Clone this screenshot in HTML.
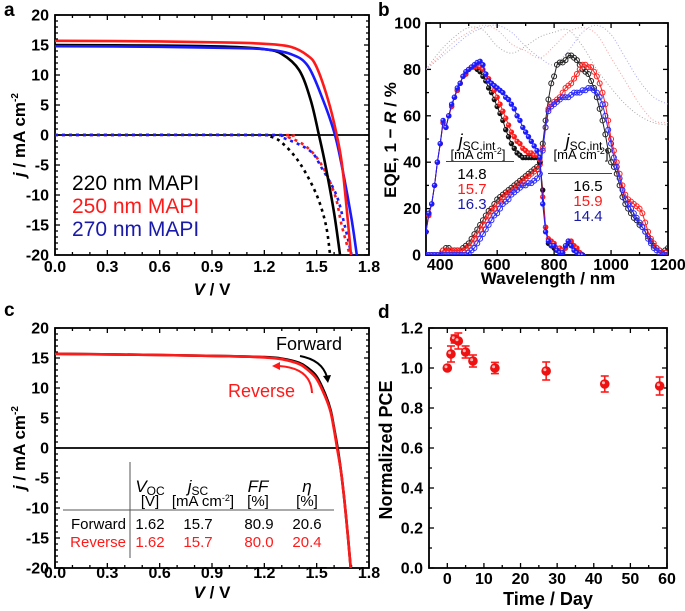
<!DOCTYPE html>
<html><head><meta charset="utf-8"><style>
html,body{margin:0;padding:0;background:#fff}
svg{display:block;font-family:"Liberation Sans",sans-serif}
</style></head><body>
<svg id="chart" width="685" height="611" viewBox="0 0 685 611" xmlns="http://www.w3.org/2000/svg"></svg>
<script>
// ---------- Panel a data (V in volts, j in mA cm^-2) ----------
const aBlackV = [0, 0.6, 1.0, 1.2, 1.3, 1.4, 1.466, 1.513, 1.55, 1.6, 1.634];
const aBlackJ = [15.0, 14.9, 14.7, 14.3, 13.5, 10.8, 5.8, 0, -5, -13, -20];
const aRedV = [0, 0.6, 1.0, 1.2, 1.35, 1.45, 1.5, 1.566, 1.615, 1.65, 1.697];
const aRedJ = [15.7, 15.6, 15.4, 15.2, 14.7, 13.2, 11.3, 5.8, 0, -6, -20];
const aBlueV = [0, 0.6, 1.0, 1.2, 1.35, 1.45, 1.537, 1.605, 1.65, 1.7, 1.73];
const aBlueJ = [14.8, 14.7, 14.5, 14.3, 13.5, 11.5, 5.8, 0, -6, -14, -20];
const aBlackDV = [0, 1.1, 1.24, 1.32, 1.41, 1.5, 1.553, 1.577];
const aBlackDJ = [0, 0, -0.3, -1.8, -5, -10, -15, -20];
const aRedDV = [0, 1.25, 1.34, 1.443, 1.529, 1.605, 1.643, 1.69];
const aRedDJ = [0, 0, -0.4, -2, -5, -10, -15, -20];
const aBlueDV = [0, 1.2, 1.3, 1.46, 1.529, 1.613, 1.66, 1.7];
const aBlueDJ = [0, 0, -0.4, -2.6, -5.5, -10, -15, -20];

// ---------- Panel b data (wavelength nm, %) ----------
const topWl = [350,360,370,380,390,400,410,420,430,440,450,460,470,480,490,500,510,520,530,540,550,560,570,580,590,600,610,620,630,640,650,660,670,680,690,700,710,720,730,740,750,760,770,780,790,800,810,820,830,840,850,860,870,880,890,900];
const topBlack = [10,18,22,30,40,48,57,55,60,64,68,71,74,77,78,80,81,81,80,79,77,75,72,70,67,64,61,58,54,51,48,46,44,43,42,42,42,42,42,42,40,28,12,5,4,3,2,2,1,3,5,5,3,2,1,0];
const topRed = [10,17,22,30,40,48,57,55,60,64,68,71,74,77,78,80,81,81,82,81,80,78,76,74,71,68,65,62,59,56,53,51,49,48,46,45,44,44,43,43,41,25,12,7,6,5,3,3,2,3,6,6,4,3,1,0];
const topBlue = [10,18,22,30,40,48,58,55,60,65,68,72,74,77,79,80,81,82,83,83.5,82,78,75,74,73,72,71,70,68,67,65,63,60,58,55,53,51,49,47,45,42,22,10,6,4,4,2,1,1,4,6,4,2,1,0,0];
const botWl = [350,360,370,380,390,400,410,420,430,440,450,460,470,480,490,500,510,520,530,540,550,560,570,580,590,600,610,620,630,640,650,660,670,680,690,700,710,720,730,740,750,760,770,780,790,800,810,820,830,840,850,860,870,880,890,900,910,920,930,940,950,960,970,980,990,1000,1010,1020,1030,1040,1050,1060,1070,1080,1090,1100,1110,1120,1130,1140,1150,1160,1170,1180,1190,1200];
const botBlack = [0,0,0,0,0,0,2,3,3,2,2,2,2,3,4,5,7,9,11,13,15,17,19,20,22,24,25,26,27,28,29,30,31,32,33,34,35,36,37,38,40,48,58,67,74,77,82,83,83,84,86,86,85,84,82,80,79,78,75,72,68,63,58,52,45,40,38,35,30,25,22,20,18,16,15,13,12,10,8,6,4,3,2,1,2,3];
const botRed = [0,0,0,0,0,0,2,2,2,2,2,2,2,2,3,4,5,7,9,11,13,15,17,19,20,22,23,25,26,27,28,29,30,31,32,33,34,35,36,37,39,46,55,63,65,66,67,68,70,72,73,74,76,78,80,82,82,81,81,79,77,74,70,65,58,50,45,40,35,30,26,24,23,22,21,20,18,14,10,7,5,3,2,1,1,0];
const botBlue = [0,0,0,0,0,0,0,0,0,0,0,0,0,0,0,1,2,3,5,7,9,11,13,15,17,18,20,22,23,24,26,27,28,29,30,30,31,31,32,33,35,45,55,62,64,65,66,67,68,68,68,69,70,70,70,71,71,72,72,71,70,68,65,60,54,48,42,38,33,28,24,22,20,18,16,14,12,10,7,5,3,2,1,0,0,0];
const rWl = [350,400,450,500,550,600,650,700,750,800,850,900,950,1000,1050,1100,1150,1200];
const rBlack = [80,88,94,98,97,90,87,90,94,96,97,90,80,72,65,60,57,56];
const rRed = [80,86,92,96,99,97,91,88,85,90,96,98,95,85,75,65,58,57];
const rBlue = [80,85,90,95,98,99,96,90,85,82,88,96,99,95,85,75,68,65];

// ---------- Panel c data ----------
const cRevV = [0, 0.6, 1.0, 1.2, 1.3, 1.4, 1.45, 1.5, 1.55, 1.58, 1.6, 1.617, 1.64, 1.66, 1.68, 1.695];
const cRevJ = [15.7, 15.5, 15.3, 15.1, 14.8, 14.0, 13.0, 11.5, 8.5, 6, 3, 0, -4, -9, -15, -20];
const cFwdV = [0, 0.6, 1.0, 1.2, 1.3, 1.4, 1.45, 1.5, 1.55, 1.58, 1.6, 1.62, 1.64, 1.66, 1.68, 1.695];
const cFwdJ = [15.7, 15.5, 15.3, 15.15, 14.9, 14.2, 13.3, 11.9, 8.9, 6.3, 3.3, 0, -4, -9, -15, -20];

// ---------- Panel d data ----------
const dDays = [0, 1, 2, 3, 5, 7, 13, 27, 43, 58];
const dPce = [1.0, 1.07, 1.145, 1.135, 1.08, 1.035, 1.0, 0.985, 0.92, 0.91];
const dErr = [0.005, 0.04, 0.02, 0.04, 0.03, 0.03, 0.028, 0.045, 0.04, 0.045];

const NS = "http://www.w3.org/2000/svg";
const svg = document.getElementById('chart');
function mk(tag, parent, a) {
  const e = document.createElementNS(NS, tag);
  for (const k in a) e.setAttribute(k, a[k]);
  parent.appendChild(e);
  return e;
}
function scale(d0, d1, p0, p1) { return v => p0 + (v - d0) * (p1 - p0) / (d1 - d0); }
function smoothPath(pts) {
  let d = `M${pts[0][0].toFixed(2)},${pts[0][1].toFixed(2)}`;
  for (let i = 0; i < pts.length - 1; i++) {
    const p0 = pts[i - 1] || pts[i], p1 = pts[i], p2 = pts[i + 1], p3 = pts[i + 2] || p2;
    const c1 = [p1[0] + (p2[0] - p0[0]) / 6, p1[1] + (p2[1] - p0[1]) / 6];
    const c2 = [p2[0] - (p3[0] - p1[0]) / 6, p2[1] - (p3[1] - p1[1]) / 6];
    d += ` C${c1[0].toFixed(2)},${c1[1].toFixed(2)} ${c2[0].toFixed(2)},${c2[1].toFixed(2)} ${p2[0].toFixed(2)},${p2[1].toFixed(2)}`;
  }
  return d;
}
let clipN = 0;
function axes(o) {
  const g = mk('g', svg, {});
  
  
  const sx = scale(o.xmin, o.xmax, o.px0, o.px1);
  const sy = scale(o.ymin, o.ymax, o.py0, o.py1);
  const ax = mk('g', g, {stroke: '#000', 'stroke-width': 1.3});
  
  
  const eps = 1e-6;
  for (let v = Math.ceil(o.xmin / o.xMinor - eps) * o.xMinor; v <= o.xmax + eps; v += o.xMinor) {
    const maj = Math.abs(v / o.xMajor - Math.round(v / o.xMajor)) < 1e-4;
    const L = maj ? 5 : 3, x = sx(v);
    mk('line', ax, {x1: x, x2: x, y1: o.py0, y2: o.py0 - L});
    mk('line', ax, {x1: x, x2: x, y1: o.py1, y2: o.py1 + L});
    if (maj) {
      const t = mk('text', g, {x: x, y: o.xLabY, 'text-anchor': 'middle', 'font-size': 16, 'font-weight': 'bold', fill: '#000'});
      
      
      t.textContent = o.xfmt(v);
    }
  }
  for (let v = Math.ceil(o.ymin / o.yMinor - eps) * o.yMinor; v <= o.ymax + eps; v += o.yMinor) {
    const maj = Math.abs(v / o.yMajor - Math.round(v / o.yMajor)) < 1e-4;
    const L = maj ? 5 : 3, y = sy(v);
    mk('line', ax, {x1: o.px0, x2: o.px0 + L, y1: y, y2: y});
    mk('line', ax, {x1: o.px1, x2: o.px1 - L, y1: y, y2: y});
    if (maj) {
      const t = mk('text', g, {x: o.yLabX, y: y + 5.5, 'text-anchor': 'end', 'font-size': 16, 'font-weight': 'bold', fill: '#000'});
      
      
      t.textContent = o.yfmt(Math.abs(v) < eps ? 0 : v);
    }
  }
  const fr = mk('rect', g, {x: o.px0, y: o.py1, width: o.px1 - o.px0, height: o.py0 - o.py1, fill: 'none', stroke: '#000', 'stroke-width': 1.8});
  
  
  const id = 'clip' + (clipN++);
  const cp = mk('clipPath', svg, {id: id});
  mk('rect', cp, {x: o.px0, y: o.py1, width: o.px1 - o.px0, height: o.py0 - o.py1});
  const plot = mk('g', g, {'clip-path': `url(#${id})`});
  
  
  return {sx, sy, g, plot};
}
function label(parent, x, y, html, attrs, name) {
  const t = mk('text', parent, Object.assign({x: x, y: y, fill: '#000'}, attrs));
  
  
  t.innerHTML = html;
  return t;
}
function curve(A, parent, xs, ys, color, dash, name, w) {
  const pts = xs.map((v, i) => [A.sx(v), A.sy(ys[i])]);
  const p = mk('path', parent, {d: smoothPath(pts), fill: 'none', stroke: color, 'stroke-width': w || 2.6, 'stroke-dasharray': dash || 'none'});
  
  
  return p;
}

// ================= Panel a =================
const A = axes({name: 'panel-a', px0: 55, px1: 369, py0: 255, py1: 15, xmin: 0, xmax: 1.8, ymin: -20, ymax: 20,
  xMajor: 0.3, xMinor: 0.1, yMajor: 5, yMinor: 1, xLabY: 272, yLabX: 49, xfmt: v => v.toFixed(1), yfmt: v => String(Math.round(v))});
mk('line', A.plot, {x1: 55, x2: 369, y1: A.sy(0), y2: A.sy(0), stroke: '#000', 'stroke-width': 1.8});
curve(A, A.plot, aBlackDV, aBlackDJ, '#000', '3 4', 'series-220nm-dark');
curve(A, A.plot, aRedDV, aRedDJ, '#ff1a1a', '3 4', 'series-250nm-dark');
curve(A, A.plot, aBlueDV, aBlueDJ, '#1a1aff', '3 4', 'series-270nm-dark');
curve(A, A.plot, aBlackV, aBlackJ, '#000', null, 'series-220nm-light');
curve(A, A.plot, aBlueV, aBlueJ, '#1a1aff', null, 'series-270nm-light');
curve(A, A.plot, aRedV, aRedJ, '#ff1a1a', null, 'series-250nm-light');
label(A.g, 72, 190, '220 nm MAPI', {'font-size': 21}, 'legend-entry-220nm');
label(A.g, 72, 213, '250 nm MAPI', {'font-size': 21, fill: '#ff1a1a'}, 'legend-entry-250nm');
label(A.g, 72, 236, '270 nm MAPI', {'font-size': 21, fill: '#1a1aaa'}, 'legend-entry-270nm');
label(A.g, 212, 295, '<tspan font-style="italic">V</tspan> / V', {'font-size': 17, 'font-weight': 'bold', 'text-anchor': 'middle'}, 'x-axis-title');
label(A.g, 0, 0, '<tspan font-style="italic">j</tspan> / mA cm<tspan dy="-7" font-size="10">-2</tspan>', {'font-size': 17, 'font-weight': 'bold', 'text-anchor': 'middle', transform: 'translate(25,135) rotate(-90)'}, 'y-axis-title');
label(svg, 4, 16, 'a', {'font-size': 19, 'font-weight': 'bold'}, 'panel-label-a');

// ================= Panel b =================
const B = axes({name: 'panel-b', px0: 426, px1: 668, py0: 255, py1: 23, xmin: 350, xmax: 1200, ymin: 0, ymax: 100,
  xMajor: 200, xMinor: 100, yMajor: 20, yMinor: 10, xLabY: 270, yLabX: 421, xfmt: v => String(v), yfmt: v => String(Math.round(v))});
curve(B, B.plot, rWl, rBlack, '#aaa', '1 2', 'series-1-minus-R-220nm', 1);
curve(B, B.plot, rWl, rRed, '#f5a0a0', '1 2', 'series-1-minus-R-250nm', 1);
curve(B, B.plot, rWl, rBlue, '#a8a8f5', '1 2', 'series-1-minus-R-270nm', 1);
function markers(Ax, parent, xs, ys, color, filled, name) {
  const g = mk('g', parent, {});
  
  
  const pts = xs.map((v, i) => [Ax.sx(v), Ax.sy(ys[i])]);
  mk('polyline', g, {points: pts.map(p => p.join(',')).join(' '), fill: 'none', stroke: color, 'stroke-width': 1});
  pts.forEach(p => {
    if (filled) {
      mk('circle', g, {cx: p[0], cy: p[1], r: 2.7, fill: color});
      mk('circle', g, {cx: p[0] - 0.8, cy: p[1] - 0.8, r: 0.9, fill: '#fff', opacity: 0.6});
    } else {
      mk('circle', g, {cx: p[0], cy: p[1], r: 2.5, fill: 'none', stroke: color, 'stroke-width': 1});
    }
  });
}
markers(B, B.plot, botWl, botBlack, '#222', false, 'series-bottom-cell-eqe-220nm');
markers(B, B.plot, botWl, botRed, '#ff2020', false, 'series-bottom-cell-eqe-250nm');
markers(B, B.plot, botWl, botBlue, '#2a2aff', false, 'series-bottom-cell-eqe-270nm');
markers(B, B.plot, topWl, topBlack, '#111', true, 'series-top-cell-eqe-220nm');
markers(B, B.plot, topWl, topRed, '#ff1a1a', true, 'series-top-cell-eqe-250nm');
markers(B, B.plot, topWl, topBlue, '#1a1aff', true, 'series-top-cell-eqe-270nm');
label(B.g, 477, 147, '<tspan font-style="italic" font-size="18">j</tspan><tspan font-size="12" dy="3">SC,int</tspan>', {'font-size': 14, 'text-anchor': 'middle'}, 'jsc-int-header-top');
label(B.g, 478, 159, '[mA cm<tspan dy="-5" font-size="9">-2</tspan><tspan dy="5">]</tspan>', {'font-size': 13, 'text-anchor': 'middle'}, 'jsc-int-unit-top');
mk('line', B.g, {x1: 446, x2: 514, y1: 161.5, y2: 161.5, stroke: '#444', 'stroke-width': 1});
label(B.g, 472, 179, '14.8', {'font-size': 15, 'text-anchor': 'middle'}, 'jsc-top-220nm');
label(B.g, 472, 194, '15.7', {'font-size': 15, 'text-anchor': 'middle', fill: '#ff1a1a'}, 'jsc-top-250nm');
label(B.g, 472, 209, '16.3', {'font-size': 15, 'text-anchor': 'middle', fill: '#1a1aaa'}, 'jsc-top-270nm');
label(B.g, 584, 147, '<tspan font-style="italic" font-size="18">j</tspan><tspan font-size="12" dy="3">SC,int</tspan>', {'font-size': 14, 'text-anchor': 'middle'}, 'jsc-int-header-bottom');
label(B.g, 581, 159, '[mA cm<tspan dy="-5" font-size="9">-2</tspan><tspan dy="5">]</tspan>', {'font-size': 13, 'text-anchor': 'middle'}, 'jsc-int-unit-bottom');
mk('line', B.g, {x1: 548, x2: 612, y1: 173.5, y2: 173.5, stroke: '#444', 'stroke-width': 1});
label(B.g, 588, 191, '16.5', {'font-size': 15, 'text-anchor': 'middle'}, 'jsc-bottom-220nm');
label(B.g, 588, 206, '15.9', {'font-size': 15, 'text-anchor': 'middle', fill: '#ff1a1a'}, 'jsc-bottom-250nm');
label(B.g, 588, 221, '14.4', {'font-size': 15, 'text-anchor': 'middle', fill: '#1a1aaa'}, 'jsc-bottom-270nm');
label(B.g, 548, 284, 'Wavelength / nm', {'font-size': 17, 'font-weight': 'bold', 'text-anchor': 'middle'}, 'x-axis-title');
label(B.g, 0, 0, 'EQE, 1 − <tspan font-style="italic">R</tspan> / %', {'font-size': 17, 'font-weight': 'bold', 'text-anchor': 'middle', transform: 'translate(396,140) rotate(-90)'}, 'y-axis-title');
label(svg, 378, 16, 'b', {'font-size': 19, 'font-weight': 'bold'}, 'panel-label-b');

// ================= Panel c =================
const C = axes({name: 'panel-c', px0: 55, px1: 369, py0: 568, py1: 328, xmin: 0, xmax: 1.8, ymin: -20, ymax: 20,
  xMajor: 0.3, xMinor: 0.1, yMajor: 5, yMinor: 1, xLabY: 578, yLabX: 49, xfmt: v => v.toFixed(1), yfmt: v => String(Math.round(v))});
mk('line', C.plot, {x1: 55, x2: 369, y1: C.sy(0), y2: C.sy(0), stroke: '#000', 'stroke-width': 1.8});
curve(C, C.plot, cFwdV, cFwdJ, '#000', null, 'series-forward-scan');
curve(C, C.plot, cRevV, cRevJ, '#ff1a1a', null, 'series-reverse-scan');
label(C.g, 276, 350, 'Forward', {'font-size': 18}, 'forward-label');
label(C.g, 228, 397, 'Reverse', {'font-size': 18, fill: '#ff1a1a'}, 'reverse-label');
const fa = mk('path', C.g, {d: 'M300,356 Q322,360 327,377', fill: 'none', stroke: '#000', 'stroke-width': 2});


mk('polygon', C.g, {points: '323,376 331,375 328,383', fill: '#000'});
const ra = mk('path', C.g, {d: 'M312,393 Q311,368 279,366', fill: 'none', stroke: '#ff1a1a', 'stroke-width': 2});


mk('polygon', C.g, {points: '280,362 280,370 272,366', fill: '#ff1a1a'});
mk('line', C.g, {x1: 130, x2: 130, y1: 462, y2: 558, stroke: '#555', 'stroke-width': 1});
mk('line', C.g, {x1: 63, x2: 334, y1: 510, y2: 510, stroke: '#555', 'stroke-width': 1});
const th = {'font-size': 15, 'text-anchor': 'middle'};
label(C.g, 150, 492, '<tspan font-style="italic" font-size="17">V</tspan><tspan font-size="12" dy="3">OC</tspan>', th, 'table-header-voc');
label(C.g, 150, 506, '[V]', th, 'table-unit-voc');
label(C.g, 198, 492, '<tspan font-style="italic" font-size="17">j</tspan><tspan font-size="12" dy="3">SC</tspan>', th, 'table-header-jsc');
label(C.g, 203, 506, '[mA cm<tspan dy="-5" font-size="9">-2</tspan><tspan dy="5">]</tspan>', th, 'table-unit-jsc');
label(C.g, 258, 492, '<tspan font-style="italic">FF</tspan>', {'font-size': 17, 'text-anchor': 'middle'}, 'table-header-ff');
label(C.g, 258, 506, '[%]', th, 'table-unit-ff');
label(C.g, 307, 492, '<tspan font-style="italic">η</tspan>', {'font-size': 17, 'text-anchor': 'middle'}, 'table-header-eta');
label(C.g, 307, 506, '[%]', th, 'table-unit-eta');
label(C.g, 126, 529, 'Forward', {'font-size': 15, 'text-anchor': 'end'}, 'table-row-forward');
label(C.g, 126, 547, 'Reverse', {'font-size': 15, 'text-anchor': 'end', fill: '#ff1a1a'}, 'table-row-reverse');
['1.62', '15.7', '80.9', '20.6'].forEach((s, i) => label(C.g, [150, 198, 259, 307][i], 529, s, th, 'table-forward-value'));
['1.62', '15.7', '80.0', '20.4'].forEach((s, i) => label(C.g, [150, 198, 259, 307][i], 547, s, Object.assign({fill: '#ff1a1a'}, th), 'table-reverse-value'));
label(C.g, 212, 598, '<tspan font-style="italic">V</tspan> / V', {'font-size': 17, 'font-weight': 'bold', 'text-anchor': 'middle'}, 'x-axis-title');
label(C.g, 0, 0, '<tspan font-style="italic">j</tspan> / mA cm<tspan dy="-7" font-size="10">-2</tspan>', {'font-size': 17, 'font-weight': 'bold', 'text-anchor': 'middle', transform: 'translate(25,448) rotate(-90)'}, 'y-axis-title');
label(svg, 4, 316, 'c', {'font-size': 19, 'font-weight': 'bold'}, 'panel-label-c');

// ================= Panel d =================
const D = axes({name: 'panel-d', px0: 429, px1: 667, py0: 568, py1: 328, xmin: -5, xmax: 60, ymin: 0, ymax: 1.2,
  xMajor: 10, xMinor: 5, yMajor: 0.2, yMinor: 0.1, xLabY: 584, yLabX: 423, xfmt: v => String(Math.round(v)), yfmt: v => v.toFixed(1)});
dDays.forEach((d, i) => {
  const g = mk('g', D.g, {});
  
  
  const x = D.sx(d), y = D.sy(dPce[i]), yt = D.sy(dPce[i] + dErr[i]), yb = D.sy(dPce[i] - dErr[i]);
  mk('line', g, {x1: x, x2: x, y1: yt, y2: yb, stroke: '#ff1a1a', 'stroke-width': 1.6});
  mk('line', g, {x1: x - 4, x2: x + 4, y1: yt, y2: yt, stroke: '#ff1a1a', 'stroke-width': 1.6});
  mk('line', g, {x1: x - 4, x2: x + 4, y1: yb, y2: yb, stroke: '#ff1a1a', 'stroke-width': 1.6});
  mk('circle', g, {cx: x, cy: y, r: 4.8, fill: '#ee1111'});
  mk('circle', g, {cx: x - 1.3, cy: y - 1.3, r: 1.5, fill: '#fff', opacity: 0.7});
});
label(D.g, 548, 605, 'Time / Day', {'font-size': 18, 'font-weight': 'bold', 'text-anchor': 'middle'}, 'x-axis-title');
label(D.g, 0, 0, 'Normalized PCE', {'font-size': 18, 'font-weight': 'bold', 'text-anchor': 'middle', transform: 'translate(392,450) rotate(-90)'}, 'y-axis-title');
label(svg, 378, 318, 'd', {'font-size': 19, 'font-weight': 'bold'}, 'panel-label-d');
</script>
</body></html>
